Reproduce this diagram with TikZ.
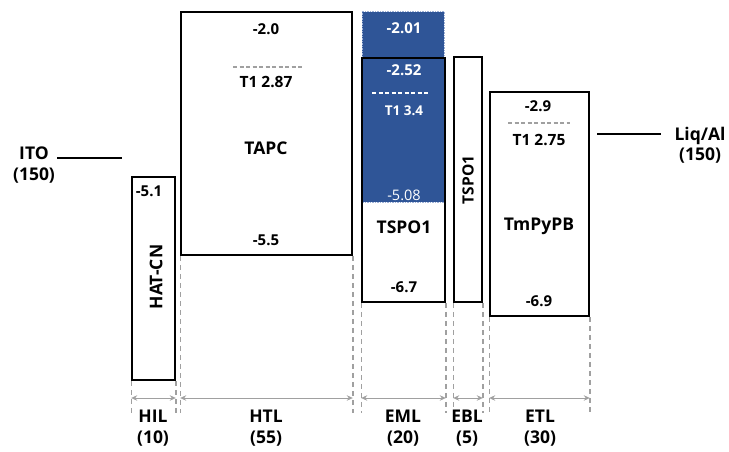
\documentclass[tikz,border=0pt]{standalone}
\usepackage{fontspec}
\setmainfont{Open Sans}
\usetikzlibrary{arrows.meta}
\definecolor{bluefill}{HTML}{2F5597}
\definecolor{blueedge}{HTML}{9DB0D6}
\definecolor{dgray}{HTML}{A0A0A0}
\begin{document}
\begin{tikzpicture}[x=1pt,y=-1pt,
  layerbox/.style={draw=black, line width=1.6pt, inner sep=0pt},
  numtxt/.style={font=\bfseries\fontsize{15}{15}\selectfont, inner sep=0pt},
  triptxt/.style={font=\bfseries\fontsize{15.5}{15.5}\selectfont, inner sep=0pt},
  mattxt/.style={font=\bfseries\fontsize{17.5}{17.5}\selectfont, inner sep=0pt},
  elctxt/.style={font=\bfseries\fontsize{17.5}{20.5}\selectfont, inner sep=0pt, align=center},
  tline/.style={dgray, line width=1.4pt, dash pattern=on 4pt off 2.5pt},
  wline/.style={white, line width=1.4pt, dash pattern=on 4pt off 2.5pt},
  dline/.style={dgray, line width=1.4pt, dash pattern=on 5pt off 4pt},
  dimarrow/.style={dgray, line width=1pt, {Stealth[length=6pt,width=5.5pt]}-{Stealth[length=6pt,width=5.5pt]}},
  elevel/.style={black, line width=1.5pt}
]
\useasboundingbox (0,0) rectangle (729,452);

% boxes
\node[layerbox, fill=white, minimum width=43pt, minimum height=203pt] (hil) at (153.5,278.5) {};
\node[layerbox, fill=white, minimum width=171pt, minimum height=243pt] (htl) at (266.5,133.5) {};
\node[layerbox, fill=white, minimum width=83pt, minimum height=244pt] (emlbg) at (403.5,180) {};
\node[draw=blueedge, line width=1pt, dash pattern=on 1.5pt off 1pt, fill=bluefill, inner sep=0pt,
      minimum width=82pt, minimum height=190pt] (blue) at (403,107) {};
\node[layerbox, minimum width=83pt, minimum height=244pt] (eml) at (403.5,180) {};
\node[layerbox, fill=white, minimum width=28pt, minimum height=245pt] (ebl) at (468,179.5) {};
\node[layerbox, fill=white, minimum width=99pt, minimum height=224pt] (etl) at (539.5,204) {};

% electrodes
\coordinate (itoA) at (57,158);
\coordinate (itoB) at (122,158);
\draw[elevel] (itoA) -- (itoB);
\node[elctxt] (ito) at (34,165) {ITO\\(150)};
\coordinate (alA) at (597,134);
\coordinate (alB) at (661,134);
\draw[elevel] (alA) -- (alB);
\node[elctxt] (al) at (700,145) {Liq/Al\\(150)};

% HIL
\node[numtxt] (hilhomo) at (149,191) {-5.1};
\node[mattxt, rotate=90] (hiln) at (156,277) {HAT-CN};

% HTL
\node[numtxt] (htllumo) at (266,29) {-2.0};
\coordinate (htlT1a) at (233,67);
\coordinate (htlT1b) at (302,67);
\draw[tline] (htlT1a) -- (htlT1b);
\node[triptxt] (htlt) at (266,82) {T1 2.87};
\node[mattxt] (htln) at (266,148) {TAPC};
\node[numtxt] (htlhomo) at (266,240) {-5.5};

% EML
\node[numtxt, text=white] (bl1) at (404,28) {-2.01};
\node[numtxt, text=white] (bl2) at (404,70) {-2.52};
\coordinate (emlT1a) at (372,93);
\coordinate (emlT1b) at (430,93);
\draw[wline] (emlT1a) -- (emlT1b);
\node[triptxt, text=white, font=\bfseries\fontsize{13.5}{13.5}\selectfont] (emlt) at (404,111) {T1 3.4};
\node[numtxt, text=white, font=\mdseries\fontsize{14.5}{14.5}\selectfont] (bl3) at (404,195) {-5.08};
\node[mattxt] (emln) at (404,227) {TSPO1};
\node[numtxt] (emlhomo) at (404,287) {-6.7};

% EBL
\node[mattxt, rotate=90, font=\bfseries\fontsize{15.5}{15.5}\selectfont] (ebln) at (468,180) {TSPO1};

% ETL
\node[numtxt] (etllumo) at (538,106) {-2.9};
\coordinate (etlT1a) at (508,123);
\coordinate (etlT1b) at (570,123);
\draw[tline] (etlT1a) -- (etlT1b);
\node[triptxt] (etlt) at (539,140) {T1 2.75};
\node[mattxt] (etln) at (539,226) {TmPyPB};
\node[numtxt] (etlhomo) at (539,301) {-6.9};

% thickness guides
\foreach \b in {hil,htl,eml,ebl,etl}{
  \coordinate (\b-l) at (\b.south west |- 0,413);
  \coordinate (\b-r) at (\b.south east |- 0,413);
  \coordinate (\b-al) at (\b.south west |- 0,398);
  \coordinate (\b-ar) at (\b.south east |- 0,398);
  \draw[dline] (\b.south west) -- (\b-l);
  \draw[dline] (\b.south east) -- (\b-r);
  \draw[dimarrow] (\b-al) -- (\b-ar);
}

\node[elctxt] (hill) at (153,428) {HIL\\(10)};
\node[elctxt] (htll) at (266,428) {HTL\\(55)};
\node[elctxt] (emll) at (403,428) {EML\\(20)};
\node[elctxt] (ebll) at (467,428) {EBL\\(5)};
\node[elctxt] (etll) at (540,428) {ETL\\(30)};
\end{tikzpicture}
\end{document}
